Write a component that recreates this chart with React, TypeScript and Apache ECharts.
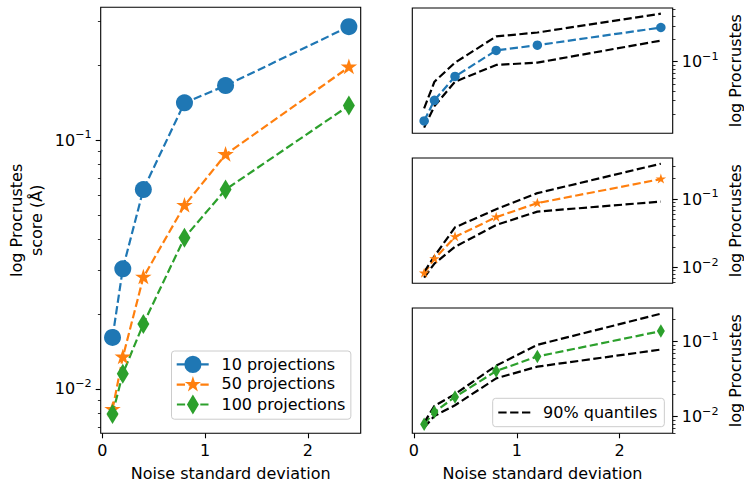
import React, { useEffect, useRef } from "react";
import * as echarts from "echarts";

// ---------------- data ----------------
const noise = [0.1, 0.2, 0.4, 0.8, 1.2, 2.4];
const xTickValues = [0, 1, 2];
const seriesNames = ["10 projections", "50 projections", "100 projections"];
const quantileName = "90% quantiles";

const proj10 = [0.0161, 0.0304, 0.0633, 0.1413, 0.1657, 0.286];
const proj50 = [0.00826, 0.0134, 0.0281, 0.0546, 0.0875, 0.1966];
const proj100 = [0.00793, 0.0115, 0.01825, 0.0405, 0.0633, 0.1377];

const q10Upper = [0.0237, 0.0538, 0.097, 0.217, 0.245, 0.4375];
const q10Lower = [0.0131, 0.0254, 0.0538, 0.0903, 0.097, 0.191];
const q50Upper = [0.00861, 0.01466, 0.0387, 0.0713, 0.1225, 0.33];
const q50Lower = [0.00713, 0.01145, 0.0201, 0.0419, 0.0658, 0.0922];
const q100Upper = [0.00831, 0.01387, 0.0199, 0.0477, 0.0903, 0.235];
const q100Lower = [0.00713, 0.0102, 0.01416, 0.0323, 0.0463, 0.0782];

// ---------------- styling ----------------
const FONT = "'DejaVu Sans', sans-serif";
const FS = 16;
const BLUE = "#1f77b4";
const ORANGE = "#ff7f0e";
const GREEN = "#2ca02c";
const LW = 2.2;
const DASH = [8.2, 3.5];

function starPath(cx: number, cy: number, R: number) {
  const r = R * 0.381966;
  let d = "";
  for (let i = 0; i < 10; i++) {
    const ang = -Math.PI / 2 + (i * Math.PI) / 5;
    const rad = i % 2 === 0 ? R : r;
    d += (i === 0 ? "M" : "L") + (cx + rad * Math.cos(ang)).toFixed(3) + " " + (cy + rad * Math.sin(ang)).toFixed(3) + " ";
  }
  return d + "Z ";
}
function circlePath(cx: number, cy: number, r: number) {
  return `M${cx - r} ${cy} A${r} ${r} 0 1 1 ${cx + r} ${cy} A${r} ${r} 0 1 1 ${cx - r} ${cy} Z `;
}
function diamondPath(cx: number, cy: number, w: number, h: number) {
  return `M${cx} ${cy - h / 2} L${cx + w / 2} ${cy} L${cx} ${cy + h / 2} L${cx - w / 2} ${cy} Z `;
}
function dashRects(len: number) {
  let d = "";
  let x = 0;
  let on = true;
  let i = 0;
  while (x < len) {
    const seg = DASH[i % 2];
    const end = Math.min(len, x + seg);
    if (on) d += `M${x} ${-LW / 2} L${end} ${-LW / 2} L${end} ${LW / 2} L${x} ${LW / 2} Z `;
    x += seg;
    on = !on;
    i++;
  }
  return d;
}
const HANDLE = 32;
const STAR_SYMBOL = "path://" + starPath(0, 0, 10);
const legendIcons = [
  "path://" + dashRects(HANDLE) + circlePath(HANDLE / 2, 0, 8.5),
  "path://" + dashRects(HANDLE) + starPath(HANDLE / 2, 0, 8.4),
  "path://" + dashRects(HANDLE) + diamondPath(HANDLE / 2, 0, 12, 20),
];
const quantileIcon = "path://" + dashRects(HANDLE);

function logExtent(arrs: number[][]) {
  let lo = Infinity;
  let hi = -Infinity;
  arrs.forEach((a) =>
    a.forEach((v) => {
      const l = Math.log10(v);
      lo = Math.min(lo, l);
      hi = Math.max(hi, l);
    })
  );
  const m = 0.05 * (hi - lo);
  return [lo - m, hi + m];
}
function majors(ext: number[]) {
  const out: number[] = [];
  for (let d = -5; d <= 2; d++) if (d >= ext[0] && d <= ext[1]) out.push(d);
  return out;
}
function minors(ext: number[]) {
  const out: number[] = [];
  for (let d = -5; d <= 2; d++)
    for (let k = 2; k <= 9; k++) {
      const v = d + Math.log10(k);
      if (v >= ext[0] && v <= ext[1]) out.push(v);
    }
  return out;
}
const toPts = (vals: number[]) => noise.map((x, i) => [x, Math.log10(vals[i])]);

const grids = [
  { left: 100.7, top: 7.3, width: 260, height: 426 },
  { left: 412.3, top: 8, width: 260.4, height: 125.3 },
  { left: 412.3, top: 158, width: 260.4, height: 125.3 },
  { left: 412.3, top: 308, width: 260.4, height: 125.3 },
];
const extents = [
  logExtent([proj10, proj50, proj100]),
  logExtent([proj10, q10Upper, q10Lower]),
  logExtent([proj50, q50Upper, q50Lower]),
  logExtent([proj100, q100Upper, q100Lower]),
];

const richLabel = {
  a: { fontSize: FS, fontFamily: FONT, color: "#000", lineHeight: 22 },
  b: { fontSize: 11.2, fontFamily: FONT, color: "#000", lineHeight: 13.6, verticalAlign: "top" },
};
const fmtPow = (v: number) => `{a|10}{b|${v < 0 ? "\u2212" : ""}${Math.abs(Math.round(v))}}`;

function buildOption() {
  const xAxis: any[] = grids.map((_, gi) => {
    const showLabels = gi === 0 || gi === 3;
    return {
      type: "value",
      gridIndex: gi,
      position: "bottom",
      min: -0.015,
      max: 2.515,
      axisLine: { show: false, onZero: false },
      splitLine: { show: false },
      axisTick: {
        show: showLabels,
        customValues: xTickValues,
        length: 5,
        lineStyle: { color: "#000", width: 1.1 },
      },
      axisLabel: {
        show: showLabels,
        customValues: xTickValues,
        margin: 9,
        fontSize: FS,
        fontFamily: FONT,
        color: "#000",
      },
      name: showLabels ? "Noise standard deviation" : "",
      nameLocation: "middle",
      nameGap: 32,
      nameTextStyle: { fontSize: FS, fontFamily: FONT, color: "#000" },
    };
  });

  const yAxis: any[] = [];
  grids.forEach((_, gi) => {
    const ext = extents[gi];
    const pos = gi === 0 ? "left" : "right";
    yAxis.push({
      type: "value",
      gridIndex: gi,
      position: pos,
      offset: 0,
      min: ext[0],
      max: ext[1],
      axisLine: { show: false, onZero: false },
      splitLine: { show: false },
      axisTick: {
        show: true,
        customValues: majors(ext),
        length: 5,
        lineStyle: { color: "#000", width: 1.1 },
      },
      axisLabel: {
        show: true,
        customValues: majors(ext),
        margin: 9,
        formatter: fmtPow,
        rich: richLabel,
      },
      name: gi === 0 ? "log Procrustes\nscore (\u00c5)" : "log Procrustes",
      nameLocation: "middle",
      nameRotate: 90,
      nameGap: gi === 0 ? 54 : 55,
      nameTextStyle: { fontSize: FS, fontFamily: FONT, color: "#000", lineHeight: gi === 0 ? 20 : 16 },
    });
    yAxis.push({
      type: "value",
      gridIndex: gi,
      position: pos,
      offset: 0,
      min: ext[0],
      max: ext[1],
      axisLine: { show: false, onZero: false },
      splitLine: { show: false },
      axisTick: {
        show: true,
        customValues: minors(ext),
        length: 2.8,
        lineStyle: { color: "#000", width: 0.8 },
      },
      axisLabel: { show: false },
    });
  });

  const mkSeries = (name: string, vals: number[], gi: number, color: string, symbol: string, size: any, extra: any = {}) => ({
    type: "line",
    name,
    xAxisIndex: gi,
    yAxisIndex: gi * 2,
    data: toPts(vals),
    symbol,
    symbolSize: size,
    showSymbol: true,
    lineStyle: { color, width: LW, type: DASH },
    itemStyle: { color, borderWidth: 0 },
    emphasis: { disabled: true },
    silent: true,
    ...extra,
  });
  const mkQuant = (vals: number[], gi: number) => ({
    type: "line",
    name: quantileName,
    xAxisIndex: gi,
    yAxisIndex: gi * 2,
    data: toPts(vals),
    symbol: "none",
    showSymbol: false,
    lineStyle: { color: "#000", width: LW, type: DASH },
    itemStyle: { color: "#000" },
    emphasis: { disabled: true },
    silent: true,
  });

  const starLeft = { symbolKeepAspect: true, symbolOffset: [0, -0.8] };
  const starRight = { symbolKeepAspect: true, symbolOffset: [0, -0.5] };
  const series: any[] = [
    mkSeries(seriesNames[0], proj10, 0, BLUE, "circle", 17),
    mkSeries(seriesNames[1], proj50, 0, ORANGE, STAR_SYMBOL, 16.5, starLeft),
    mkSeries(seriesNames[2], proj100, 0, GREEN, "diamond", [12, 20]),
    mkSeries(seriesNames[0], proj10, 1, BLUE, "circle", 9.5),
    mkQuant(q10Upper, 1),
    mkQuant(q10Lower, 1),
    mkSeries(seriesNames[1], proj50, 2, ORANGE, STAR_SYMBOL, 10.5, starRight),
    mkQuant(q50Upper, 2),
    mkQuant(q50Lower, 2),
    mkSeries(seriesNames[2], proj100, 3, GREEN, "diamond", [8, 13.5]),
    mkQuant(q100Upper, 3),
    mkQuant(q100Lower, 3),
  ];

  const legendBase = {
    orient: "vertical",
    backgroundColor: "rgba(255,255,255,0.8)",
    borderColor: "#cccccc",
    borderWidth: 1,
    borderRadius: 3,
    itemWidth: HANDLE,
    selectedMode: false,
    symbolKeepAspect: true,
    itemStyle: { borderWidth: 0 },
    textStyle: { fontSize: FS, fontFamily: FONT, color: "#000", padding: [0, 0, 0, 7.8] },
  };

  return {
    animation: false,
    backgroundColor: "#ffffff",
    textStyle: { fontFamily: FONT },
    grid: grids.map((g) => ({
      ...g,
      show: true,
      borderColor: "#000",
      borderWidth: 1.1,
      backgroundColor: "transparent",
      containLabel: false,
      outerBoundsMode: "none",
    })),
    xAxis,
    yAxis,
    legend: [
      {
        ...legendBase,
        left: 171.5,
        top: 351,
        itemHeight: 20,
        itemGap: 2.8,
        padding: [4.7, 5.5, 4.7, 5.2],
        data: seriesNames.map((n, i) => ({
          name: n,
          icon: legendIcons[i],
          itemStyle: { color: [BLUE, ORANGE, GREEN][i], borderWidth: 0 },
        })),
      },
      {
        ...legendBase,
        left: 492.7,
        top: 398.3,
        itemHeight: 16,
        padding: [6.2, 7, 6.2, 5.6],
        data: [{ name: quantileName, icon: quantileIcon, itemStyle: { color: "#000", borderWidth: 0 } }],
      },
    ],
    series,
  };
}

export default function App() {
  const ref = useRef<HTMLDivElement>(null);
  useEffect(() => {
    if (!ref.current) return;
    const chart = echarts.init(ref.current, null, { renderer: "svg" });
    chart.setOption(buildOption() as any);
    return () => chart.dispose();
  }, []);
  return <div ref={ref} style={{ position: "fixed", left: 0, top: 0, width: 744, height: 483, background: "#fff" }} />;
}
